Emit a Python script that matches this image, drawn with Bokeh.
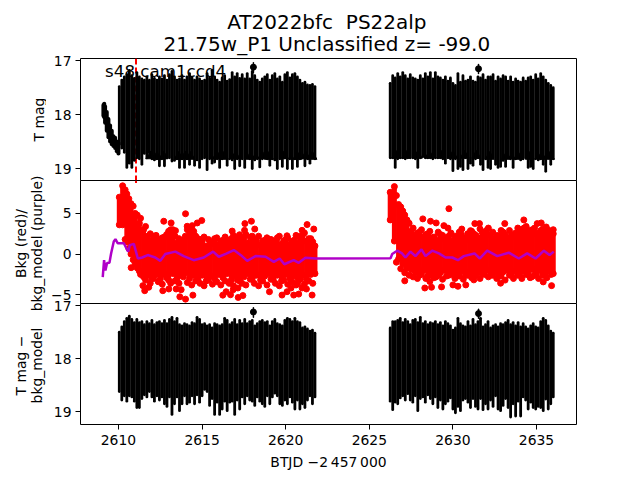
from bokeh.plotting import figure
from bokeh.layouts import column, row
from bokeh.models import Range1d, FixedTicker, Label
from bokeh.embed import file_html
from bokeh.resources import INLINE

title_1 = "AT2022bfc \u00a0PS22alp"
title_2 = "21.75w_P1 Unclassified z= -99.0"
sector = "s48 cam1ccd4"
x_label = "BTJD \u22122\u2009457\u2009000"
y_label_top = "T mag"
y_label_mid = ["Bkg (red)/", "bkg_model (purple)"]
y_label_bot = ["T mag \u2212", "bkg_model"]
x_ticks = [2610, 2615, 2620, 2625, 2630, 2635]
marker_time = 2611.05

t1 = [2610.05,2610.20,2610.35,2610.50,2610.65,2610.80,2610.95,2611.10,2611.25,2611.40,
      2611.55,2611.70,2611.85,2612.00,2612.15,2612.30,2612.45,2612.60,2612.75,2612.90,
      2613.05,2613.20,2613.35,2613.50,2613.65,2613.80,2613.95,2614.10,2614.25,2614.40,
      2614.55,2614.70,2614.85,2615.00,2615.15,2615.30,2615.45,2615.60,2615.75,2615.90,
      2616.05,2616.20,2616.35,2616.50,2616.65,2616.80,2616.95,2617.10,2617.25,2617.40,
      2617.55,2617.70,2617.85,2618.00,2618.15,2618.30,2618.45,2618.60,2618.75,2618.90,
      2619.05,2619.20,2619.35,2619.50,2619.65,2619.80,2619.95,2620.10,2620.25,2620.40,
      2620.55,2620.70,2620.85,2621.00,2621.15,2621.30,2621.45,2621.60,2621.75]
t2 = [2626.25,2626.40,2626.55,2626.70,2626.85,2627.00,2627.15,2627.30,2627.45,2627.60,
      2627.75,2627.90,2628.05,2628.20,2628.35,2628.50,2628.65,2628.80,2628.95,2629.10,
      2629.25,2629.40,2629.55,2629.70,2629.85,2630.00,2630.15,2630.30,2630.45,2630.60,
      2630.75,2630.90,2631.05,2631.20,2631.35,2631.50,2631.65,2631.80,2631.95,2632.10,
      2632.25,2632.40,2632.55,2632.70,2632.85,2633.00,2633.15,2633.30,2633.45,2633.60,
      2633.75,2633.90,2634.05,2634.20,2634.35,2634.50,2634.65,2634.80,2634.95,2635.10,
      2635.25,2635.40,2635.55,2635.70,2635.85,2636.00]

mag_hi_1 = [17.48,17.36,17.30,17.26,17.18,17.28,17.33,17.22,17.30,17.34,
            17.36,17.30,17.36,17.26,17.33,17.36,17.30,17.34,17.28,17.36,
            17.26,17.20,17.30,17.36,17.34,17.28,17.36,17.30,17.24,17.32,
            17.36,17.30,17.34,17.38,17.36,17.24,17.32,17.18,17.30,17.36,
            17.40,17.32,17.28,17.38,17.35,17.22,17.30,17.24,17.33,17.26,
            17.34,17.24,17.34,17.20,17.28,17.36,17.40,17.34,17.30,17.26,
            17.36,17.28,17.24,17.34,17.30,17.40,17.26,17.22,17.32,17.26,
            17.24,17.30,17.36,17.42,17.40,17.45,17.46,17.44,17.48]
mag_lo_1 = [18.55,18.62,18.70,18.98,18.90,18.98,18.85,18.80,18.82,18.92,
            18.72,18.80,18.70,18.82,18.84,18.82,18.95,18.82,18.95,18.80,
            18.80,18.86,18.85,18.82,18.98,18.82,18.98,18.82,18.92,18.80,
            18.94,18.84,18.98,18.82,18.80,19.02,18.82,18.90,18.88,18.82,
            18.98,18.82,18.80,18.94,18.82,18.84,19.00,18.82,18.95,18.82,
            18.98,18.80,18.82,19.00,18.84,18.82,18.97,18.82,18.80,18.82,
            18.94,18.82,18.84,19.00,18.82,18.96,18.80,19.00,18.82,19.00,
            18.82,18.96,18.82,18.80,18.95,18.82,18.90,18.80,18.82]
mag_hi_2 = [17.42,17.28,17.32,17.24,17.30,17.22,17.28,17.34,17.26,17.32,
            17.34,17.36,17.28,17.34,17.24,17.30,17.22,17.34,17.22,17.30,
            17.32,17.36,17.30,17.38,17.32,17.42,17.46,17.24,17.40,17.28,
            17.38,17.36,17.30,17.38,17.40,17.30,17.32,17.26,17.36,17.30,
            17.30,17.26,17.38,17.30,17.34,17.28,17.30,17.38,17.30,17.40,
            17.34,17.38,17.40,17.32,17.38,17.32,17.30,17.36,17.26,17.34,
            17.24,17.30,17.36,17.42,17.46,17.50]
mag_lo_2 = [18.80,18.80,18.98,18.82,18.80,18.80,18.82,18.80,18.80,18.80,
            18.82,18.98,18.80,18.78,18.80,18.80,18.80,18.82,18.80,18.80,
            18.80,18.82,18.90,18.80,18.82,19.04,18.82,19.00,18.96,19.02,
            18.80,19.00,18.90,18.94,18.82,18.80,18.92,19.02,18.82,18.98,
            19.00,18.80,18.92,18.98,18.96,18.85,18.96,18.80,18.82,18.98,
            18.82,18.80,18.84,18.82,18.80,18.98,18.96,19.00,18.82,18.84,
            18.82,18.92,19.05,18.80,18.92,18.82]

early_t = [2609.10,2609.15,2609.20,2609.30,2609.40,2609.50,2609.60,2609.70,2609.80,2609.90,2610.00]
early_hi = [17.82,17.80,17.85,17.95,18.08,18.20,18.30,18.40,18.43,18.50,18.52]
early_lo = [18.02,18.05,18.15,18.30,18.42,18.50,18.55,18.58,18.62,18.68,18.72]

tri_t = [2611.9,2612.3,2612.7,2613.6,2614.0,2614.3,2615.9,2616.3,2617.0,2617.9,2618.6,2619.0,
         2619.9,2620.7,2621.2,2621.6,2626.6,2627.2,2627.9,2628.6,2629.3,2630.0,2630.7,2631.4,
         2632.2,2633.2,2633.9,2634.6,2635.3,2635.8]
tri_mag = [18.77,18.78,18.77,18.78,18.77,18.78,18.77,18.78,18.77,18.78,18.77,18.78,
           18.77,18.78,18.77,18.78,18.76,18.76,18.76,18.76,18.76,18.76,18.76,18.76,
           18.78,18.78,18.78,18.78,18.78,18.78]

iso_t = [2618.07, 2631.53]
iso_mag = [17.12, 17.15]
iso_hi = [17.04, 17.07]
iso_lo = [17.22, 17.24]

diff_hi_1 = [17.50,17.40,17.30,17.24,17.20,17.26,17.32,17.26,17.32,17.30,
             17.36,17.30,17.34,17.28,17.36,17.32,17.30,17.34,17.28,17.34,
             17.26,17.22,17.30,17.24,17.36,17.38,17.34,17.36,17.38,17.32,
             17.34,17.22,17.26,17.36,17.34,17.38,17.36,17.42,17.34,17.36,
             17.38,17.36,17.24,17.28,17.36,17.32,17.26,17.36,17.28,17.34,
             17.26,17.34,17.30,17.28,17.38,17.34,17.30,17.28,17.32,17.30,
             17.38,17.30,17.26,17.34,17.36,17.38,17.28,17.24,17.26,17.30,
             17.24,17.30,17.32,17.42,17.40,17.44,17.48,17.46,17.52]
diff_lo_1 = [18.62,18.78,18.70,18.80,18.70,18.72,18.80,18.92,18.92,18.75,
             18.68,18.72,18.62,18.72,18.80,18.70,18.78,18.72,18.85,18.90,
             18.72,19.05,18.85,18.72,18.98,18.85,18.70,18.85,18.82,18.70,
             18.85,18.68,18.82,18.70,18.58,18.62,18.88,18.75,19.05,18.82,
             19.05,18.95,18.80,18.98,18.82,18.80,19.05,18.78,18.95,18.72,
             18.85,18.70,18.78,18.80,18.88,18.72,18.80,18.85,18.90,18.70,
             18.85,18.72,18.65,18.70,18.85,18.88,18.78,18.85,18.72,18.82,
             18.95,18.78,18.95,18.85,18.92,18.78,18.70,18.85,18.72]
diff_hi_2 = [17.42,17.30,17.30,17.28,17.24,17.32,17.26,17.30,17.36,17.28,
             17.26,17.32,17.22,17.34,17.30,17.36,17.32,17.34,17.30,17.36,
             17.32,17.38,17.30,17.34,17.38,17.46,17.42,17.24,17.34,17.38,
             17.40,17.30,17.38,17.26,17.36,17.30,17.24,17.40,17.36,17.30,
             17.42,17.38,17.36,17.40,17.34,17.36,17.32,17.28,17.36,17.32,
             17.38,17.32,17.40,17.34,17.40,17.44,17.38,17.34,17.40,17.42,
             17.30,17.24,17.28,17.38,17.48,17.52]
diff_lo_2 = [18.80,18.96,18.82,18.85,18.74,18.70,18.78,18.66,18.78,18.82,
             18.70,18.98,18.75,18.72,18.82,18.68,18.75,18.85,18.72,18.92,
             18.78,18.95,18.85,18.80,18.74,18.95,19.02,18.90,18.98,18.78,
             18.75,18.82,18.92,18.75,18.90,18.95,18.75,18.96,18.85,18.95,
             18.78,18.90,18.70,18.95,18.98,18.88,18.75,18.92,19.10,18.85,
             19.08,18.80,19.08,18.72,18.78,18.95,18.82,18.92,18.95,18.90,
             18.92,18.98,18.76,18.95,18.85,18.72]

bkg_t1 = [2610.05,2610.25,2610.50,2610.75,2611.00,2611.25,2611.50,2611.75,2612.00,2612.25,
          2612.50,2612.75,2613.00,2613.25,2613.50,2613.75,2614.00,2614.25,2614.50,2614.75,
          2615.00,2615.25,2615.50,2615.75,2616.00,2616.25,2616.50,2616.75,2617.00,2617.25,
          2617.50,2617.75,2618.00,2618.25,2618.50,2618.75,2619.00,2619.25,2619.50,2619.75,
          2620.00,2620.25,2620.50,2620.75,2621.00,2621.25,2621.50,2621.75]
bkg_hi_1 = [7.0,8.4,7.4,6.2,5.0,3.8,3.0,2.2,1.6,2.3,
            1.5,2.1,2.8,3.0,1.4,1.2,2.2,3.2,2.8,1.9,
            1.6,1.0,1.5,1.9,1.2,1.7,1.3,1.9,1.5,2.2,
            2.0,1.4,2.2,1.6,1.1,1.7,1.3,1.6,2.0,1.2,
            1.8,1.2,1.7,1.3,2.3,1.6,1.9,1.0]
bkg_lo_1 = [3.6,3.6,1.5,0.0,-1.2,-2.1,-2.8,-2.6,-3.0,-2.5,
            -3.1,-2.5,-3.2,-2.4,-3.0,-2.6,-2.3,-3.0,-2.6,-3.1,
            -2.6,-3.3,-2.7,-3.0,-2.5,-2.9,-2.4,-3.2,-2.7,-3.3,
            -2.8,-2.4,-3.0,-2.6,-3.2,-2.7,-2.4,-3.1,-2.6,-3.3,
            -2.5,-3.0,-2.7,-3.2,-2.6,-3.1,-2.5,-2.4]
bkg_t2 = [2626.25,2626.50,2626.75,2627.00,2627.25,2627.50,2627.75,2628.00,2628.25,2628.50,
          2628.75,2629.00,2629.25,2629.50,2629.75,2630.00,2630.25,2630.50,2630.75,2631.00,
          2631.25,2631.50,2631.75,2632.00,2632.25,2632.50,2632.75,2633.00,2633.25,2633.50,
          2633.75,2634.00,2634.25,2634.50,2634.75,2635.00,2635.25,2635.50,2635.75,2636.00]
bkg_hi_2 = [7.6,8.3,6.1,5.3,4.2,2.8,2.3,2.7,2.1,2.5,
            2.0,1.7,2.4,1.9,2.2,1.6,2.1,2.4,1.8,2.3,
            2.5,2.0,2.7,2.9,2.4,1.9,2.2,2.7,2.0,2.4,
            2.6,3.0,3.2,2.8,3.0,2.5,2.9,2.6,2.9,2.5]
bkg_lo_2 = [4.2,1.6,-0.6,-1.2,-1.7,-1.9,-2.2,-2.6,-2.0,-2.7,
            -2.2,-2.8,-2.3,-2.0,-2.6,-2.2,-2.7,-2.1,-2.6,-2.2,
            -2.7,-2.2,-2.4,-2.0,-2.6,-2.1,-2.7,-2.2,-2.0,-2.6,
            -2.1,-2.5,-2.0,-2.5,-1.9,-2.4,-2.0,-2.6,-2.1,-2.4]

edge_t = [2610.40,2610.62,2610.88,2611.12,2611.32,2611.62,2611.90,2612.10,2612.38,2612.62,
          2612.88,2613.12,2613.38,2613.62,2613.88,2614.12,2614.38,2614.62,2614.88,2615.12,
          2615.38,2615.62,2615.88,2616.12,2616.38,2616.62,2616.88,2617.12,2617.38,2617.62,
          2617.88,2618.12,2618.38,2618.62,2618.88,2619.12,2619.38,2619.62,2619.88,2620.12,
          2620.38,2620.62,2620.88,2621.12,2621.38,2621.62,
          2626.62,2626.88,2627.12,2627.38,2627.62,2627.88,2628.12,2628.38,2628.62,2628.88,
          2629.12,2629.38,2629.62,2629.88,2630.12,2630.38,2630.62,2630.88,2631.12,2631.38,
          2631.62,2631.88,2632.12,2632.38,2632.62,2632.88,2633.12,2633.38,2633.62,2633.88,
          2634.12,2634.38,2634.62,2634.88,2635.12,2635.38,2635.62,2635.88]
edge_hi = [7.9,6.8,5.9,4.8,4.4,3.4,2.5,2.2,1.8,2.0,
           2.4,3.0,2.2,1.9,1.7,3.0,2.6,2.2,1.8,2.1,
           1.8,1.4,2.0,1.6,2.1,1.7,2.3,2.0,1.7,2.4,
           2.1,1.8,2.2,1.6,2.0,1.8,1.5,2.2,1.6,2.0,
           1.5,2.3,1.7,2.6,1.9,1.5,
           7.2,5.8,4.8,3.8,3.2,2.6,3.0,2.4,2.8,2.1,
           2.7,2.3,2.0,2.6,2.2,2.7,2.0,2.5,2.8,2.3,
           3.1,2.4,3.2,2.7,2.3,2.9,2.4,2.9,2.2,3.2,
           2.8,3.4,2.9,3.2,2.6,3.1,2.8,2.7]
edge_lo = [1.8,0.7,-0.7,-1.7,-2.5,-3.2,-3.6,-3.0,-3.4,-3.7,
           -2.9,-3.6,-3.3,-3.6,-2.8,-3.5,-3.8,-3.3,-3.6,-3.9,
           -3.2,-3.7,-3.4,-3.8,-3.3,-3.6,-3.9,-3.2,-3.6,-3.8,
           -3.1,-3.6,-3.9,-3.3,-3.8,-3.1,-3.6,-3.9,-3.2,-3.7,
           -3.4,-3.8,-3.1,-3.7,-3.3,-3.6,
           -1.0,-1.8,-2.3,-2.6,-2.8,-3.0,-2.5,-3.0,-2.6,-2.9,
           -2.6,-3.1,-2.7,-2.5,-3.0,-2.7,-3.1,-2.6,-2.9,-2.6,
           -3.0,-2.5,-2.8,-2.6,-3.0,-2.7,-3.2,-2.6,-3.0,-2.6,
           -3.0,-2.5,-2.9,-2.6,-3.0,-2.6,-2.9,-2.5]

outlier_t = [2610.76,2611.46,2611.57,2611.81,2612.71,2613.15,2614.01,2613.41,2613.01,2612.65,
             2613.45,2613.75,2613.67,2614.01,2614.45,2614.11,2614.41,2614.71,2614.98,2617.56,
             2617.95,2618.15,2617.54,2617.24,2616.80,2617.16,2617.44,2616.24,2616.44,2616.70,
             2616.86,2617.14,2621.28,2621.68,2620.98,2620.82,2620.08,2619.03,2619.78,2620.08,
             2620.32,2620.48,2620.78,2620.98,2621.24,2621.58,2620.72,
             2629.76,2628.20,2627.12,2628.32,2628.72,2628.62,2629.32,2630.00,2630.30,2630.77,
             2631.25,2632.85,2635.40,2635.90,2634.72,2635.44,2628.66,2629.00,2629.46,2629.70,
             2630.53,2631.05,2631.31,2631.59,2633.10,2634.24,2635.04,2635.28,2635.58,2636.00]
outlier_v = [-1.67,-3.88,-4.50,-4.08,4.04,3.83,4.96,2.88,-4.29,-4.50,
             -4.29,-4.38,-5.25,-5.54,-5.05,3.42,3.50,3.83,4.13,3.75,
             4.04,3.08,2.92,2.38,2.83,-5.33,-5.10,-5.05,-4.63,-5.00,
             -4.38,-4.17,3.63,3.08,2.92,2.17,2.25,-4.63,-5.04,-4.63,
             -4.17,-5.04,-4.92,-4.17,-4.29,-5.04,-3.60,
             5.58,4.33,-3.29,-4.17,-4.08,-3.38,-4.04,-3.79,-3.96,-3.79,
             -3.17,-3.58,-3.42,-3.88,-2.79,-2.54,4.04,3.83,3.50,3.20,
             3.08,2.88,3.75,3.75,3.75,4.20,3.75,3.83,3.33,3.00]

model_t = [2609.06,2609.14,2609.22,2609.32,2609.46,2609.56,2609.72,2609.82,2609.96,2610.32,2610.58,2610.68,
           2610.92,2611.16,2611.42,2611.75,2612.20,2612.50,2612.80,2613.40,2613.90,2614.50,2615.10,2615.66,
           2616.00,2616.45,2616.90,2617.30,2617.70,2618.20,2618.80,2619.29,2619.64,2619.92,2620.48,2620.78,
           2621.18,2621.78,2626.27,2626.37,2626.67,2626.96,2627.16,2627.46,2627.76,2628.12,2628.36,2628.76,
           2629.16,2629.56,2629.96,2630.30,2630.65,2631.29,2631.61,2632.05,2632.65,2633.34,2633.94,2634.44,
           2634.94,2635.44,2635.78,2636.03]
model_v = [-2.83,-0.75,-2.00,-1.10,-1.08,0.08,1.54,1.83,1.33,1.33,0.29,1.10,
           1.25,-0.54,-0.42,-0.12,-0.42,-0.83,0.00,0.30,-0.25,-0.75,-0.42,0.30,
           -0.33,0.05,0.50,-0.10,-0.83,-0.25,-0.33,-0.96,-0.54,-1.25,-0.75,-1.08,
           -0.46,-0.54,-0.50,0.00,0.42,0.08,-0.42,0.30,-0.25,0.58,-0.25,0.42,
           0.08,-0.42,-0.42,-0.75,-0.25,0.08,-0.54,0.42,-0.25,0.17,-0.54,0.08,
           -0.54,0.42,-0.12,0.30]

for a, b in [(t1, mag_hi_1), (t1, mag_lo_1), (t1, diff_hi_1), (t1, diff_lo_1),
             (t2, mag_hi_2), (t2, mag_lo_2), (t2, diff_hi_2), (t2, diff_lo_2),
             (bkg_t1, bkg_hi_1), (bkg_t1, bkg_lo_1), (bkg_t2, bkg_hi_2), (bkg_t2, bkg_lo_2),
             (edge_t, edge_hi), (edge_t, edge_lo),
             (outlier_t, outlier_v), (model_t, model_v), (tri_t, tri_mag)]:
    assert len(a) == len(b), (len(a), len(b))

X0, X1 = 2607.73, 2637.39
FONT = "DejaVu Sans"
SIDE = 46   # width of the strip that holds the y-axis titles
PLOT_W = 594


def panel(height, y0, y1, ticks, border_top=0, border_bottom=0, show_x=False, overrides=None, margin=(0, 0, 0, 0)):
    p = figure(width=PLOT_W, height=height, output_backend="svg", toolbar_location=None,
               x_range=Range1d(X0, X1), y_range=Range1d(y0, y1),
               min_border_left=80 - SIDE, min_border_right=PLOT_W - (576 - SIDE), min_border_top=border_top,
               min_border_bottom=border_bottom, background_fill_color="white", border_fill_color=None,
               margin=margin)
    p.grid.visible = False
    p.outline_line_color = "black"
    p.outline_line_width = 1
    p.outline_line_alpha = 1
    y = p.yaxis[0]
    y.ticker = FixedTicker(ticks=ticks)
    y.axis_line_color = None
    y.major_tick_in = 0
    y.major_tick_out = 5
    y.minor_tick_out = 0
    y.minor_tick_in = 0
    y.major_tick_line_color = "black"
    y.major_label_text_font = FONT
    y.major_label_text_font_size = "13.9px"
    y.major_label_text_color = "#000000"
    y.major_label_standoff = 4
    if overrides:
        y.major_label_overrides = overrides
    x = p.xaxis[0]
    if show_x:
        x.ticker = FixedTicker(ticks=x_ticks)
        x.axis_line_color = None
        x.major_tick_in = 0
        x.major_tick_out = 5
        x.minor_tick_out = 0
        x.minor_tick_in = 0
        x.major_tick_line_color = "black"
        x.major_label_text_font = FONT
        x.major_label_text_font_size = "13.9px"
        x.major_label_text_color = "#000000"
        x.major_label_standoff = 5
        x.axis_label = x_label
        x.axis_label_text_font = FONT
        x.axis_label_text_font_style = "normal"
        x.axis_label_text_font_size = "13.9px"
        x.axis_label_text_color = "#000000"
        x.axis_label_standoff = 6
    else:
        x.visible = False
    return p


def blank(width, height, x_end, y_start, y_end):
    p = figure(width=width, height=height, output_backend="svg", toolbar_location=None,
               x_range=Range1d(0, x_end), y_range=Range1d(y_start, y_end),
               min_border=0, min_border_left=0, min_border_right=0, min_border_top=0, min_border_bottom=0)
    p.axis.visible = False
    p.grid.visible = False
    p.outline_line_color = None
    return p


def bars(p, t, hi, lo, color="black", lw=2.8):
    p.segment(x0=t, y0=hi, x1=t, y1=lo, line_color=color, line_width=lw, line_cap="round")


# header with the two title lines
header = blank(PLOT_W, 58, PLOT_W, 58, 0)
for txt, ypos in [(title_1, 21), (title_2, 43)]:
    header.add_layout(Label(x=328 - SIDE + 13, y=ypos, text=txt, text_font=FONT, text_font_size="20px",
                            text_color="#000000", text_align="center", text_baseline="middle"))

# strip with the rotated y-axis titles
side = blank(SIDE, 464, SIDE, 464, 0)
for txt, xpos, ypos in [(y_label_top, 38, 119), (y_label_mid[0], 20, 243), (y_label_mid[1], 36, 243),
                        (y_label_bot[0], 20, 365), (y_label_bot[1], 36, 365)]:
    side.add_layout(Label(x=xpos, y=ypos, text=txt, text_font=FONT, text_font_size="13.9px",
                          text_color="#000000", text_align="center", text_baseline="middle", angle=90,
                          angle_units="deg"))

# top panel
p1 = panel(131, 19.24, 16.96, [17, 18, 19], border_top=8, margin=(-8, 0, 0, 0))
p1.segment(x0=[marker_time], y0=[19.24], x1=[marker_time], y1=[16.96], line_color="#ff0000",
           line_width=2, line_dash="6 3")
bars(p1, early_t, early_hi, early_lo, lw=4)
bars(p1, t1, mag_hi_1, mag_lo_1)
bars(p1, t2, mag_hi_2, mag_lo_2)
bars(p1, iso_t, iso_hi, iso_lo, lw=1.5)
p1.scatter(iso_t, iso_mag, size=6, color="black")
p1.scatter(tri_t, tri_mag, marker="triangle", size=9, color="black")
p1.add_layout(Label(x=2609.2, y=17.19, text=sector, text_font=FONT, text_font_size="16.7px",
                    text_color="#000000", text_baseline="alphabetic"))

# middle panel
p2 = panel(124, -6.2, 9.05, [-5, 0, 5], overrides={-5: "\u22125"}, margin=(-1, 0, 0, 0))
p2.segment(x0=[marker_time], y0=[9.05], x1=[marker_time], y1=[8.75], line_color="#ff0000", line_width=2)
bars(p2, bkg_t1, bkg_hi_1, bkg_lo_1, color="#ff0000", lw=5)
bars(p2, bkg_t2, bkg_hi_2, bkg_lo_2, color="#ff0000", lw=5)
for t_, v_ in [(bkg_t1, bkg_hi_1), (bkg_t1, bkg_lo_1), (bkg_t2, bkg_hi_2), (bkg_t2, bkg_lo_2),
               (edge_t, edge_hi), (edge_t, edge_lo), (outlier_t, outlier_v)]:
    p2.scatter(t_, v_, size=6, color="#ff0000")
p2.line(model_t, model_v, line_color="#b000c8", line_width=2.5)

# bottom panel
p3 = panel(176, 19.24, 16.96, [17, 18, 19], border_top=7, border_bottom=45, show_x=True, margin=(-8, 0, 0, 0))
bars(p3, t1, diff_hi_1, diff_lo_1)
bars(p3, t2, diff_hi_2, diff_lo_2)
bars(p3, iso_t, iso_hi, iso_lo, lw=1.5)
p3.scatter(iso_t, iso_mag, size=6, color="black")

page = row(side, column(header, p1, p2, p3, spacing=0), spacing=0)
open("out.html", "w").write(file_html(page, INLINE))
